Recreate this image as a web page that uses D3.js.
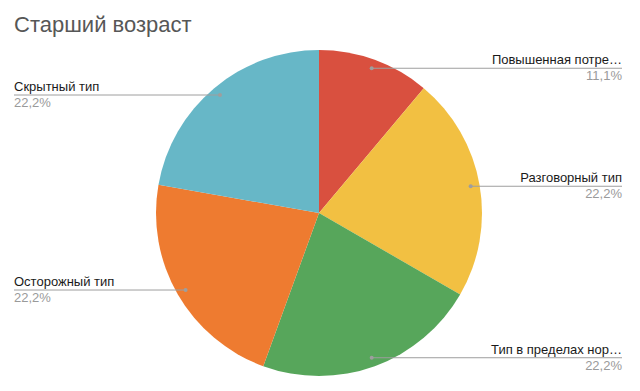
<!DOCTYPE html>
<html>
<head>
<meta charset="utf-8">
<script src="https://cdn.jsdelivr.net/npm/d3@7"></script>
<style>
  body { margin: 0; background: #fff; }
  svg { display: block; }
</style>
</head>
<body>
<svg id="chart" width="640" height="391"></svg>
<script>
const title = "Старший возраст";
const categories = ["Повышенная потре…", "Разговорный тип", "Тип в пределах нор…", "Осторожный тип", "Скрытный тип"];
const values = [1, 2, 2, 2, 2];
const colors = ["#d9503f", "#f2c042", "#57a65b", "#ee7b30", "#67b7c7"];

const width = 640, height = 391;
const cx = 319, cy = 213, radius = 163;
const fontFamily = "'Liberation Sans', Arial, Helvetica, sans-serif";

const svg = d3.select("#chart");

svg.append("rect")
    .attr("width", width)
    .attr("height", height)
    .attr("fill", "#ffffff");

// Title
svg.append("text")
    .attr("x", 14)
    .attr("y", 32)
    .attr("fill", "#575757")
    .style("font-family", fontFamily)
    .style("font-size", "22px")
    .text(title);

const total = d3.sum(values);
const pie = d3.pie().sort(null).value(d => d.value);
const arc = d3.arc().innerRadius(0).outerRadius(radius);
const dotArc = d3.arc().innerRadius(radius * 0.945).outerRadius(radius * 0.945);

const data = categories.map((c, i) => ({ label: c, value: values[i], color: colors[i] }));
const arcs = pie(data);

const g = svg.append("g")
    .attr("transform", `translate(${cx},${cy})`);

g.selectAll("path.slice")
    .data(arcs)
    .join("path")
    .attr("class", "slice")
    .attr("d", arc)
    .attr("fill", d => d.data.color);

const fmt = v => (v / total * 100).toFixed(1).replace(".", ",") + "%";

// Leader lines and labels
arcs.forEach(d => {
    const [px, py] = dotArc.centroid(d);
    const mid = (d.startAngle + d.endAngle) / 2;
    const right = mid < Math.PI;
    const x0 = cx + px, y0 = cy + py;
    const xEnd = right ? 622 : 14;

    svg.append("line")
        .attr("x1", x0)
        .attr("y1", y0)
        .attr("x2", xEnd)
        .attr("y2", y0)
        .attr("stroke", "#9e9e9e")
        .attr("stroke-width", 1);

    svg.append("circle")
        .attr("cx", x0)
        .attr("cy", y0)
        .attr("r", 2)
        .attr("fill", "#9e9e9e");

    svg.append("text")
        .attr("x", xEnd)
        .attr("y", y0 - 4)
        .attr("text-anchor", right ? "end" : "start")
        .attr("fill", "#1a1a1a")
        .style("font-family", fontFamily)
        .style("font-size", "13px")
        .text(d.data.label);

    svg.append("text")
        .attr("x", xEnd)
        .attr("y", y0 + 12)
        .attr("text-anchor", right ? "end" : "start")
        .attr("fill", "#9a9a9a")
        .style("font-family", fontFamily)
        .style("font-size", "13px")
        .text(fmt(d.data.value));
});
</script>
</body>
</html>
